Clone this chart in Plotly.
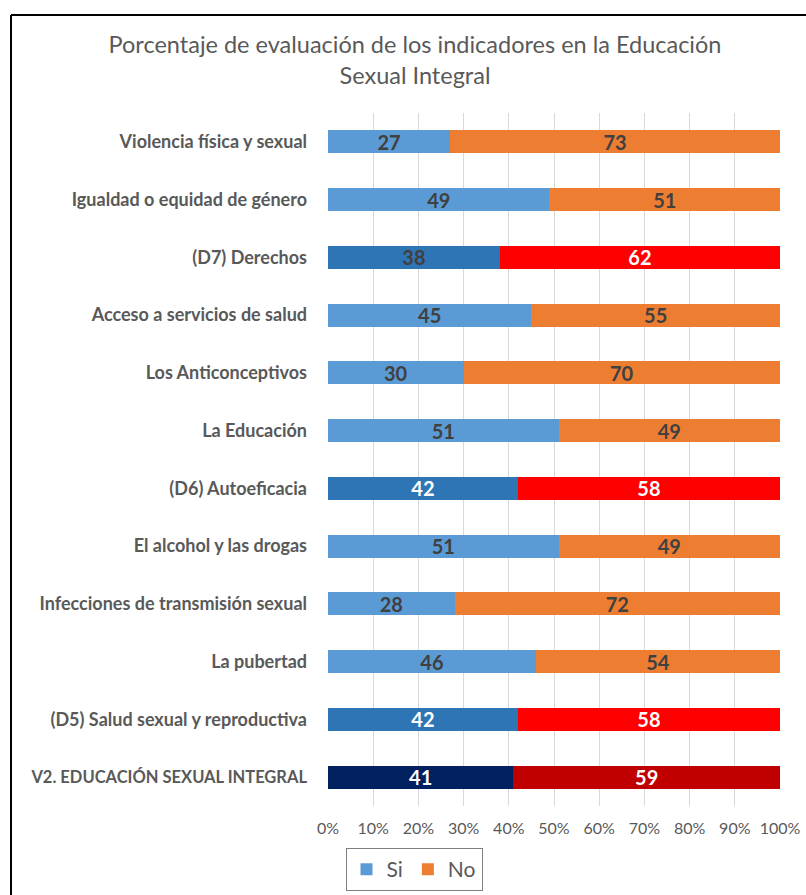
import plotly.graph_objects as go

categories = [
    "Violencia física y sexual",
    "Igualdad o equidad de género",
    "(D7) Derechos",
    "Acceso a servicios de salud",
    "Los Anticonceptivos",
    "La Educación",
    "(D6) Autoeficacia",
    "El alcohol y las drogas",
    "Infecciones de transmisión sexual",
    "La pubertad",
    "(D5) Salud sexual y reproductiva",
    "V2. EDUCACIÓN SEXUAL INTEGRAL",
]
si_values = [27, 49, 38, 45, 30, 51, 42, 51, 28, 46, 42, 41]
no_values = [73, 51, 62, 55, 70, 49, 58, 49, 72, 54, 58, 59]

si_colors = ["#5B9BD5", "#5B9BD5", "#2E75B6", "#5B9BD5", "#5B9BD5", "#5B9BD5",
             "#2E75B6", "#5B9BD5", "#5B9BD5", "#5B9BD5", "#2E75B6", "#002060"]
no_colors = ["#ED7D31", "#ED7D31", "#FF0000", "#ED7D31", "#ED7D31", "#ED7D31",
             "#FF0000", "#ED7D31", "#ED7D31", "#ED7D31", "#FF0000", "#C00000"]
si_text_colors = ["#404040", "#404040", "#404040", "#404040", "#404040", "#404040",
                  "white", "#404040", "#404040", "#404040", "white", "white"]
no_text_colors = ["#404040", "#404040", "white", "#404040", "#404040", "#404040",
                  "white", "#404040", "#404040", "#404040", "white", "white"]

FONT = "Lato"

# uppercase label is set in a condensed face in the original; shrink it slightly
tick_text = [
    (f'<span style="font-size:16.5px">{c}</span>' if c.isupper() or c.startswith("V2") else c)
    for c in categories
]

fig = go.Figure()
fig.add_trace(go.Bar(
    name="Si", y=categories, x=si_values, orientation="h",
    marker=dict(color=si_colors, line=dict(width=0)),
    text=[str(v) for v in si_values], textposition="inside",
    insidetextanchor="middle", textangle=0,
    textfont=dict(family=FONT, size=20, color=si_text_colors, weight="bold"),
    hoverinfo="skip",
))
fig.add_trace(go.Bar(
    name="No", y=categories, x=no_values, orientation="h",
    marker=dict(color=no_colors, line=dict(width=0)),
    text=[str(v) for v in no_values], textposition="inside",
    insidetextanchor="middle", textangle=0,
    textfont=dict(family=FONT, size=20, color=no_text_colors, weight="bold"),
    hoverinfo="skip",
))

PL, PR, PT, PB = 328, 780, 113, 806
PW, PH = PR - PL, PB - PT

fig.update_layout(
    width=806, height=895,
    barmode="stack", bargap=0.6,
    paper_bgcolor="white", plot_bgcolor="white",
    margin=dict(l=PL, r=806 - PR, t=PT, b=895 - PB, autoexpand=False),
    title=dict(
        text="Porcentaje de evaluación de los indicadores en la Educación<br>Sexual Integral",
        x=415 / 806, xanchor="center", y=1 - 53 / 895, yanchor="middle",
        font=dict(family=FONT, size=23.5, color="#595959"),
    ),
    xaxis=dict(
        range=[0, 100], dtick=10, ticksuffix="%",
        showgrid=True, gridcolor="#D9D9D9", gridwidth=1,
        zeroline=False, showline=False, automargin=False,
        tickfont=dict(family=FONT, size=16, color="#595959"),
        ticks="", ticklabelstandoff=11, fixedrange=True,
    ),
    yaxis=dict(
        autorange="reversed", showgrid=False, zeroline=False, showline=False,
        automargin=False, tickmode="array", tickvals=categories, ticktext=tick_text,
        tickfont=dict(family=FONT, size=18, color="#595959", weight="bold"),
        ticks="", ticklabelstandoff=20, fixedrange=True,
    ),
    legend=dict(
        orientation="h", x=(414 - PL) / PW, xanchor="center",
        y=-(848 - PB) / PH, yanchor="top",
        font=dict(family=FONT, size=21, color="#595959"),
        bordercolor="#808080", borderwidth=1, bgcolor="white",
        itemwidth=30, traceorder="normal",
    ),
    showlegend=True,
    uniformtext=dict(mode="show", minsize=20),
    shapes=[
        dict(type="line", xref="paper", yref="paper",
             x0=(11 - PL) / PW, x1=(806 - PL) / PW,
             y0=1 + (PT - 15) / PH, y1=1 + (PT - 15) / PH,
             line=dict(color="black", width=2)),
        dict(type="line", xref="paper", yref="paper",
             x0=(11 - PL) / PW, x1=(11 - PL) / PW,
             y0=1 + (PT - 15) / PH, y1=-(900 - PB) / PH,
             line=dict(color="black", width=2)),
    ],
)

fig.write_html("out.html", config={"displayModeBar": False},
               post_script="document.body.style.margin='0';")
